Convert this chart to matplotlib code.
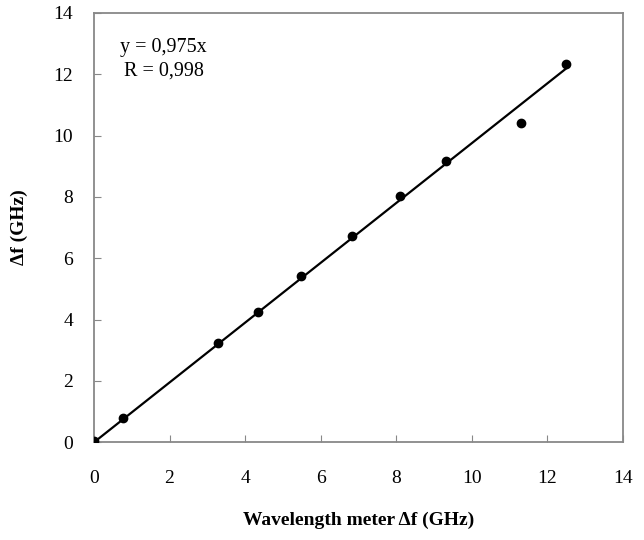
import numpy as np
import matplotlib
matplotlib.use("Agg")
import matplotlib.pyplot as plt

plt.rcParams['font.family'] = ['Liberation Serif', 'DejaVu Serif']

# measured points (wavelength meter vs. beat frequency)
wm_df = [0.0, 0.78, 3.28, 4.34, 5.49, 6.83, 8.10, 9.31, 11.30, 12.50]
df = [0.03, 0.80, 3.24, 4.25, 5.42, 6.74, 8.02, 9.18, 10.42, 12.35]

slope = 0.975
fit_x = [0.0, 12.5]
fit_y = [slope * v for v in fit_x]

fig = plt.figure(figsize=(6.44, 5.40), dpi=100)
ax = fig.add_axes([0.146, 0.181, 0.821, 0.795])

ax.plot(fit_x, fit_y, color='black', lw=1.6, zorder=2)
ax.plot(wm_df, df, 'o', color='black', ms=6, zorder=3)

ax.set_xlim(0, 14)
ax.set_ylim(0, 14)
ax.set_xticks(np.arange(0, 15, 2))
ax.set_yticks(np.arange(0, 15, 2))
ax.tick_params(direction='in', length=5, color='#888888', labelsize=14)
ax.tick_params(axis='x', pad=20)
ax.tick_params(axis='y', pad=15)
for s in ax.spines.values():
    s.set_color('#888888')
    s.set_linewidth(1.3)

ax.set_xlabel('Wavelength meter Δf (GHz)', fontsize=14, fontweight='bold', labelpad=18)
ax.set_ylabel('Δf (GHz)', fontsize=14, fontweight='bold', labelpad=18)

ax.text(0.132, 0.942, 'y = 0,975x\nR = 0,998', transform=ax.transAxes,
        fontsize=14.5, ha='center', va='top', multialignment='center', linespacing=1.35)

fig.savefig('out.png', dpi=100)
